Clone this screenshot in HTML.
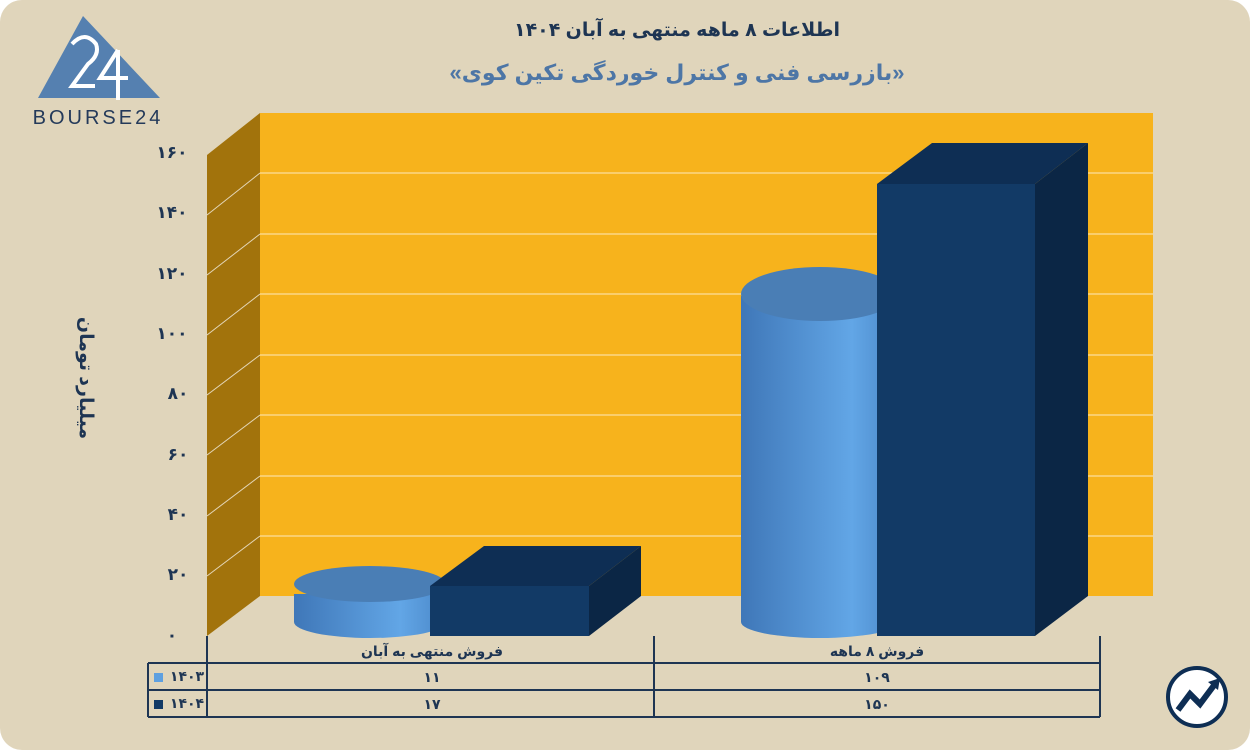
<!DOCTYPE html>
<html><head><meta charset="utf-8"><style>
body{margin:0;width:1250px;height:750px;background:#fff;overflow:hidden}
</style></head><body>
<svg width="1250" height="750" xmlns="http://www.w3.org/2000/svg" font-family="'Liberation Sans','DejaVu Sans',sans-serif">
<defs>
<linearGradient id="cyl" x1="0" x2="1"><stop offset="0" stop-color="#3f77b8"/><stop offset="0.7" stop-color="#62a6e6"/><stop offset="1" stop-color="#4a87c8"/></linearGradient>
</defs>
<rect x="0" y="0" width="1250" height="750" rx="22" fill="#e0d5bb"/>
<!-- logo -->
<polygon points="83,16 38,98 160,98" fill="#5580b0"/>
<path d="M72,44 Q85,30 96,44 Q100,55 88,64 L72,86 L95,86" fill="none" stroke="#fff" stroke-width="4"/>
<path d="M118,50 L100,78 L128,78 M118,50 L118,100" fill="none" stroke="#fff" stroke-width="4"/>
<text x="98" y="124" text-anchor="middle" font-size="20" fill="#243a5a" letter-spacing="3">BOURSE24</text>
<!-- titles -->
<text x="677" y="36" text-anchor="middle" font-size="19" font-weight="bold" fill="#1e3553" font-family="'Liberation Sans','DejaVu Sans',sans-serif">اطلاعات ۸ ماهه منتهی به آبان ۱۴۰۴</text>
<text x="677" y="80" text-anchor="middle" font-size="22" font-weight="bold" fill="#4d76a6">«بازرسی فنی و کنترل خوردگی تکین کوی»</text>
<!-- walls -->
<rect x="260" y="113" width="893" height="483" fill="#f7b31c"/>
<polygon points="207,155 260,113 260,596 207,636" fill="#a2730c"/>
<g stroke="#fff" stroke-width="1" opacity="0.7">
<line x1="260" y1="536" x2="1153" y2="536"/><line x1="260" y1="476" x2="1153" y2="476"/>
<line x1="260" y1="415" x2="1153" y2="415"/><line x1="260" y1="355" x2="1153" y2="355"/>
<line x1="260" y1="294" x2="1153" y2="294"/><line x1="260" y1="234" x2="1153" y2="234"/>
<line x1="260" y1="173" x2="1153" y2="173"/>
<line x1="207" y1="576" x2="260" y2="536"/><line x1="207" y1="516" x2="260" y2="476"/>
<line x1="207" y1="455" x2="260" y2="415"/><line x1="207" y1="395" x2="260" y2="355"/>
<line x1="207" y1="335" x2="260" y2="294"/><line x1="207" y1="275" x2="260" y2="234"/>
<line x1="207" y1="215" x2="260" y2="173"/>
</g>
<!-- y labels -->
<g font-size="17" font-weight="bold" fill="#1e3553" text-anchor="middle">
<text x="172" y="641">۰</text><text x="178" y="580">۲۰</text><text x="178" y="520">۴۰</text>
<text x="178" y="460">۶۰</text><text x="178" y="399">۸۰</text><text x="172" y="339">۱۰۰</text>
<text x="172" y="279">۱۲۰</text><text x="172" y="218">۱۴۰</text><text x="172" y="158">۱۶۰</text>
</g>
<text transform="translate(80,378) rotate(90)" text-anchor="middle" font-size="19" font-weight="bold" fill="#1e3553">میلیارد تومان</text>
<!-- group1 cylinder -->
<path d="M294,594 L294,622 A76,16 0 0 0 446,622 L446,594 Z" fill="url(#cyl)"/>
<ellipse cx="370" cy="584" rx="76" ry="18" fill="#4a7eb5"/>
<!-- group1 box -->
<polygon points="589,586 641,546 641,596 589,636" fill="#0b2645"/>
<polygon points="430,586 484,546 641,546 589,586" fill="#0e2e54"/>
<rect x="430" y="586" width="159" height="50" fill="#123a66"/>
<!-- group2 cylinder -->
<path d="M741,296 L741,622 A79,16 0 0 0 899,622 L899,296 Z" fill="url(#cyl)"/>
<ellipse cx="820" cy="294" rx="79" ry="27" fill="#4a7eb5"/>
<!-- group2 box -->
<polygon points="1035,184 1088,143 1088,596 1035,636" fill="#0b2645"/>
<polygon points="877,184 932,143 1088,143 1035,184" fill="#0e2e54"/>
<rect x="877" y="184" width="158" height="452" fill="#123a66"/>
<!-- table -->
<g stroke="#1e3553" stroke-width="2" fill="none">
<line x1="207" y1="636" x2="207" y2="717"/><line x1="654" y1="636" x2="654" y2="717"/><line x1="1100" y1="636" x2="1100" y2="717"/>
<line x1="148" y1="663" x2="1100" y2="663"/><line x1="148" y1="690" x2="1100" y2="690"/><line x1="148" y1="717" x2="1100" y2="717"/>
<line x1="148" y1="663" x2="148" y2="717"/>
</g>
<g font-size="14" font-weight="bold" fill="#1e3553" text-anchor="middle">
<text x="432" y="656">فروش منتهی به  آبان</text><text x="877" y="656">فروش ۸  ماهه</text>
<text x="432" y="682">۱۱</text><text x="877" y="682">۱۰۹</text>
<text x="432" y="709">۱۷</text><text x="877" y="709">۱۵۰</text>
<text x="187" y="681">۱۴۰۳</text><text x="187" y="708">۱۴۰۴</text>
</g>
<rect x="154" y="673" width="9" height="9" fill="#5ea0e0"/>
<rect x="154" y="700" width="9" height="9" fill="#123a66"/>
<!-- icon -->
<circle cx="1197" cy="697" r="29" fill="#fff" stroke="#0e2e54" stroke-width="4"/>
<path d="M1178,710 L1190,694 L1200,704 L1215,684" fill="none" stroke="#0e2e54" stroke-width="6"/>
<polygon points="1208,682 1220,678 1218,690" fill="#0e2e54"/>
</svg>
</body></html>
